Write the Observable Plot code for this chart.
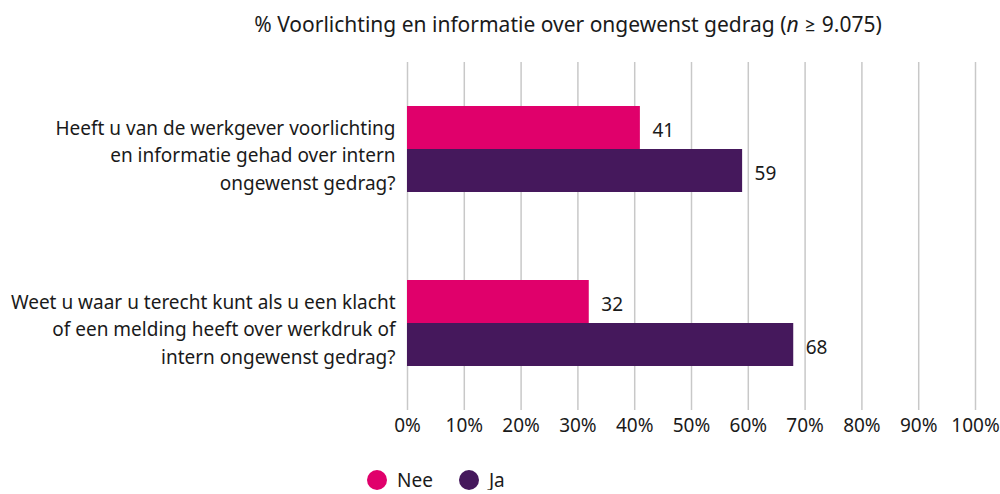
<!DOCTYPE html>
<html><head><meta charset="utf-8">
<script src="https://cdn.jsdelivr.net/npm/d3@7"></script>
<script src="https://cdn.jsdelivr.net/npm/@observablehq/plot@0.6"></script>
<style>
body{margin:0;background:#fff;font-family:"Noto Sans",Lato,sans-serif;color:#1a1a1a;overflow:hidden}
#title{width:1000px;height:48px;line-height:48px;font-size:21px;text-align:center;padding-left:136px;box-sizing:border-box;white-space:nowrap}
#chart svg{display:block}
#legend{display:flex;align-items:center;padding-left:367px;margin-top:22px;height:20px;font-size:19px;line-height:1}
.item{display:flex;align-items:center;margin-right:26px}
.dot{width:20px;height:20px;border-radius:50%;margin-right:10px}
</style></head><body>
<div id="title">% Voorlichting en informatie over ongewenst gedrag (<i>n</i> ≥ 9.075)</div>
<div id="chart"></div>
<div id="legend"></div>
<script>
const questions = [
  "Heeft u van de werkgever voorlichting\nen informatie gehad over intern\nongewenst gedrag?",
  "Weet u waar u terecht kunt als u een klacht\nof een melding heeft over werkdruk of\nintern ongewenst gedrag?"
];
const answers = ["Nee", "Ja"];
const nee = [41, 32];
const ja = [59, 68];
const colors = ["#e0006b", "#45185c"];
const xTicks = [0, 10, 20, 30, 40, 50, 60, 70, 80, 90, 100];

const data = questions.flatMap((q, i) => [
  {q, a: "Nee", v: nee[i]},
  {q, a: "Ja", v: ja[i]}
]);

const chart = Plot.plot({
  width: 1000,
  height: 400,
  marginTop: 14,
  marginBottom: 38,
  marginLeft: 407,
  marginRight: 25,
  style: {fontFamily: '"Noto Sans",Lato,sans-serif', fontSize: "19px", color: "#1a1a1a", background: "#fff"},
  x: {domain: [0, 100], ticks: xTicks, tickFormat: d => d + "%", tickSize: 0, tickPadding: 8, label: null},
  fy: {domain: questions, padding: 0, label: null, axis: null},
  y: {domain: answers, paddingInner: 0, paddingOuter: 1.02, axis: null},
  color: {domain: answers, range: colors},
  marks: [
    Plot.gridX(xTicks, {stroke: "#c8c8c8", strokeOpacity: 1, strokeWidth: 1.5}),
    Plot.barX(data, {x: "v", y: "a", fy: "q", fill: "a"}),
    Plot.text(data, {x: "v", y: "a", fy: "q", text: d => String(d.v), textAnchor: "start", dx: 12, dy: 3, fontSize: 19, fill: "#1a1a1a"}),
    Plot.axisFy({anchor: "left", tickSize: 0, tickPadding: 12, label: null, lineHeight: 1.47, fontSize: 19, dy: 4, textAnchor: "end", fill: "#1a1a1a"})
  ]
});
document.getElementById("chart").appendChild(chart);

const legend = document.getElementById("legend");
answers.forEach((a, i) => {
  const item = document.createElement("div");
  item.className = "item";
  const dot = document.createElement("span");
  dot.className = "dot";
  dot.style.background = colors[i];
  const label = document.createElement("span");
  label.textContent = a;
  item.appendChild(dot);
  item.appendChild(label);
  legend.appendChild(item);
});
</script>
</body></html>
